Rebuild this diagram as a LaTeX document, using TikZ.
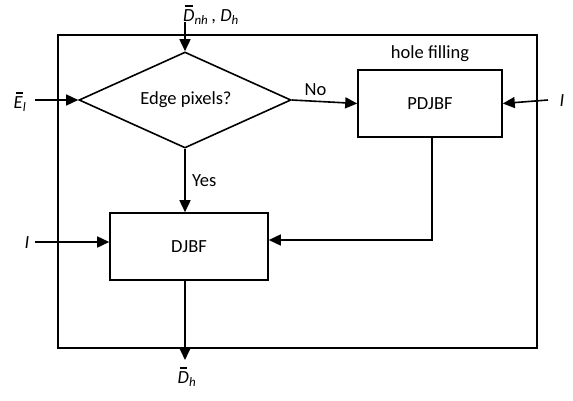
\documentclass[tikz,border=0pt]{standalone}
\usepackage{fontspec}
\setmainfont{Carlito}
\usetikzlibrary{arrows.meta,shapes.geometric}
\newcommand\barit[1]{\rlap{\hspace{0.1em}\rule[0.8em]{0.42em}{0.07em}}\textit{#1}}
\newcommand\subit[1]{\textsubscript{\itshape #1}}
\begin{document}
\begin{tikzpicture}[x=1pt,y=-1pt,
  every node/.style={font=\fontsize{18.5}{21}\selectfont},
  arr/.style={line width=1.6pt,-{Triangle[length=12pt,width=11pt]}},
  lbl/.style={inner sep=1pt}]
\useasboundingbox (0,0) rectangle (573,401);
\draw[line width=1.4pt] (58,35) rectangle (537,348);
\node[draw,line width=1.6pt,diamond,aspect=2.25,minimum width=212pt,minimum height=96pt,inner sep=0pt] (dec) at (185,100) {};
\node (dtxt) at (186,100) {Edge pixels?};
\node[draw,line width=1.6pt,minimum width=144pt,minimum height=67pt] (pd) at (430,103.5) {PDJBF};
\node[draw,line width=1.6pt,minimum width=158pt,minimum height=67pt] (dj) at (189,246.5) {DJBF};
\node[lbl] (hf) at (430,54) {hole filling};
\node[lbl] (tin) at (211,15) {\barit{D}\subit{nh}\,, \textit{D}\subit{h}};
\coordinate (tstart) at (185,22);
\node[lbl] (el) at (20,102) {\barit{E}\subit{l}};
\coordinate (elst) at (35,100);
\node[lbl] (ir) at (562,101) {\textit{I}};
\coordinate (irst) at (548,100);
\node[lbl] (il) at (27,243) {\textit{I}};
\coordinate (ilst) at (35,242);
\node[lbl] (out) at (187,377) {\barit{D}\subit{h}};
\coordinate (oend) at (185,360);
\draw[arr] (tstart) -- (dec.north);
\draw[arr] (elst) -- (dec.west);
\draw[arr] (dec.east) -- node[above,yshift=2pt,xshift=-9pt]{No} (pd.west);
\draw[arr] (dec.south) -- node[right,xshift=3pt]{Yes} (dec.south |- dj.north);
\draw[arr] (irst) -- (pd.east);
\draw[arr] (ilst) -- (ilst -| dj.west);
\coordinate (pdb) at (432,137);
\draw[arr] (pd.south -| pdb) -- (432,240) -- (dj.east |- 0,240);
\draw[arr] (dj.south -| dec.south) -- (oend);
\end{tikzpicture}
\end{document}
